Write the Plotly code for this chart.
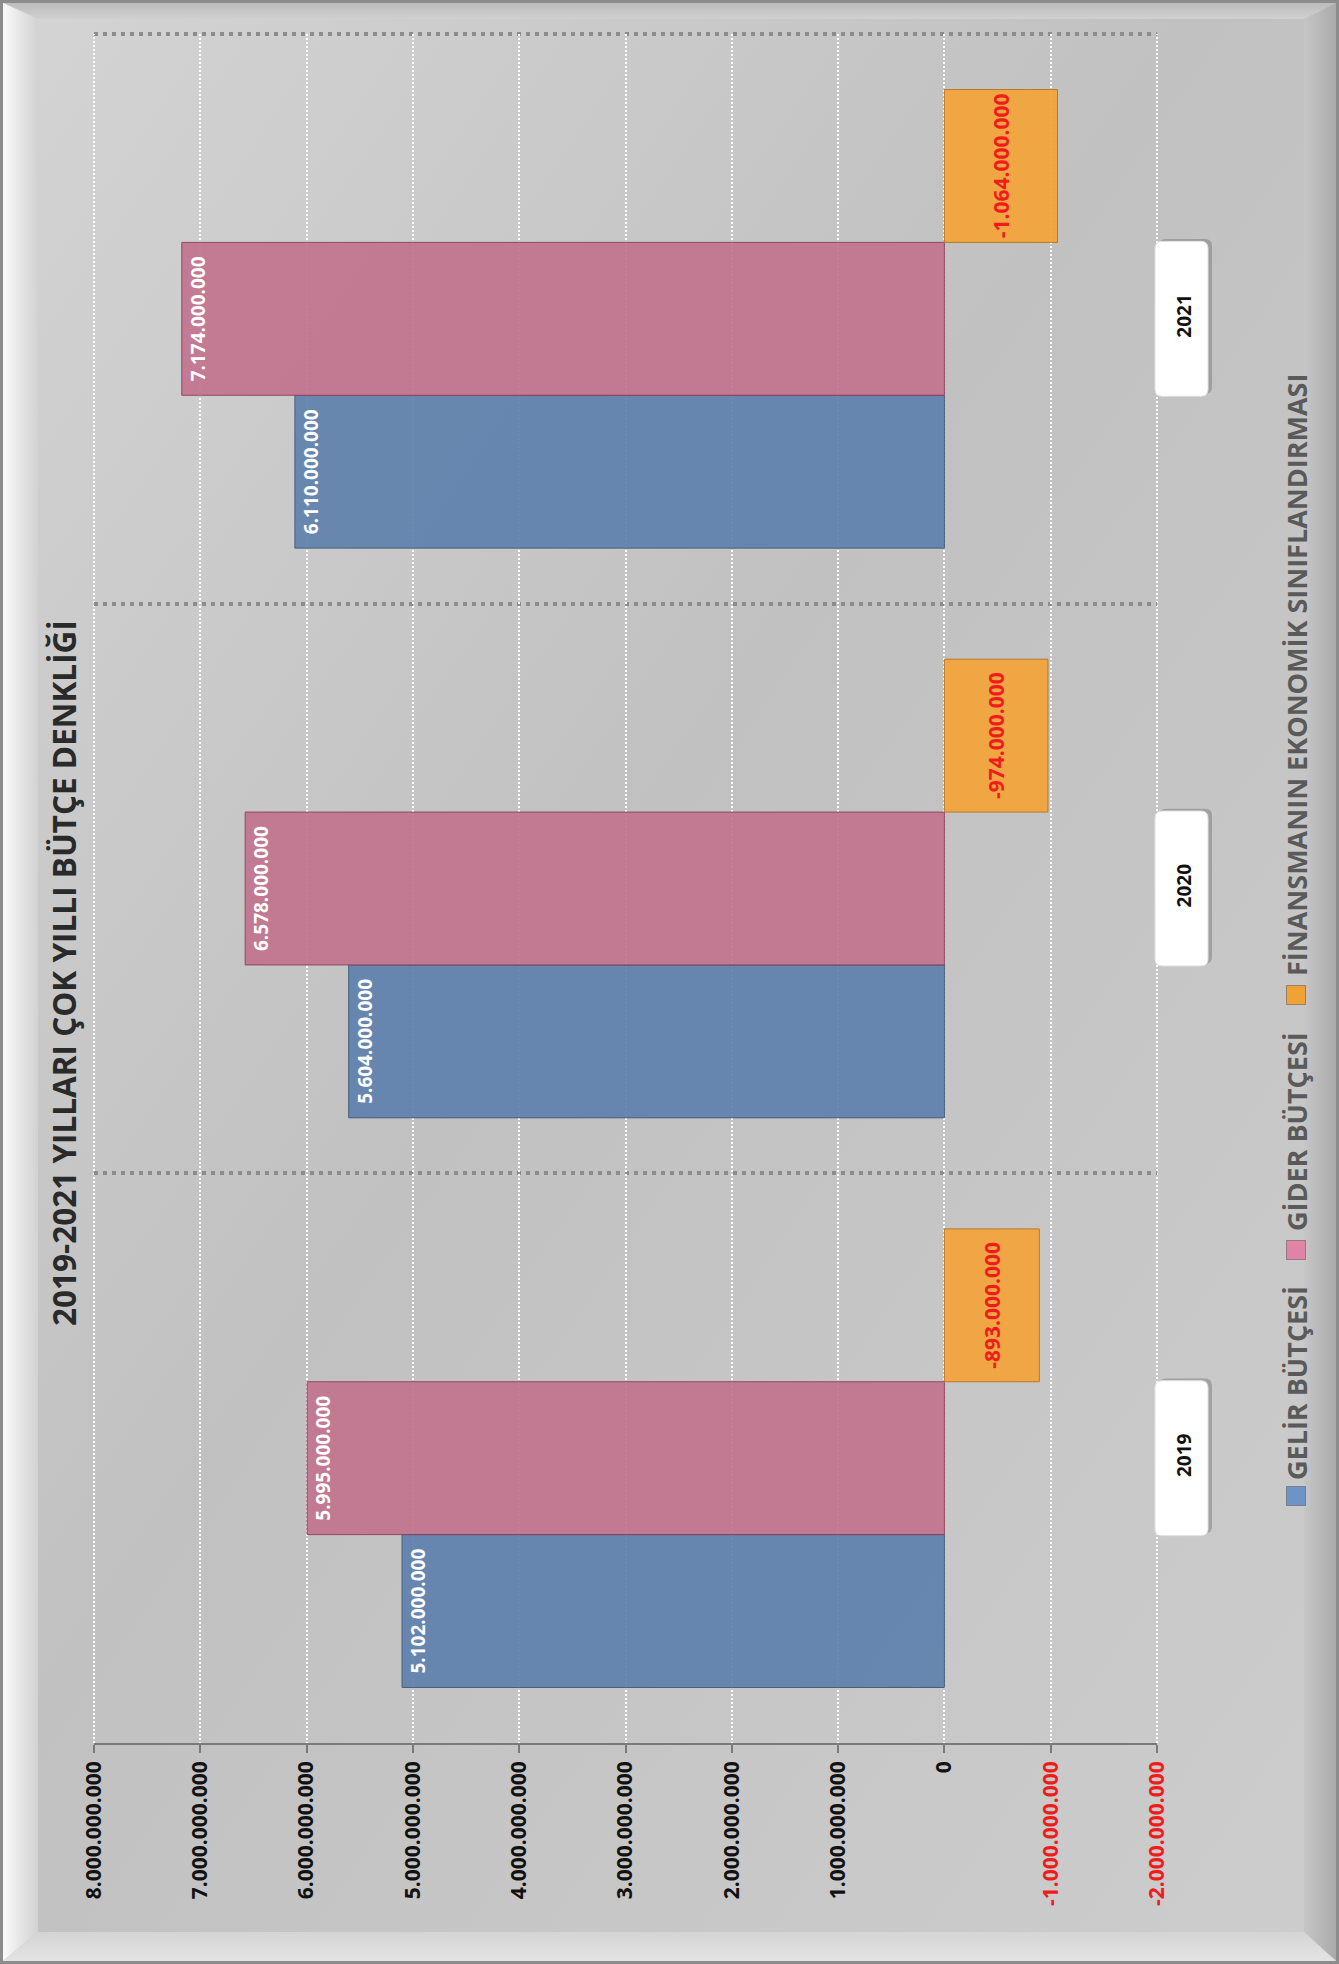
import base64
import plotly.graph_objects as go

# ---------------- data ----------------
years = ["2019", "2020", "2021"]
gelir_butcesi = [5102000000, 5604000000, 6110000000]
gider_butcesi = [5995000000, 6578000000, 7174000000]
finansman = [-893000000, -974000000, -1064000000]
series_names = ["GELİR BÜTÇESİ", "GİDER BÜTÇESİ", "FİNANSMANIN EKONOMİK SINIFLANDIRMASI"]
tick_values = [8e9, 7e9, 6e9, 5e9, 4e9, 3e9, 2e9, 1e9, 0, -1e9, -2e9]
title_text = "2019-2021 YILLARI ÇOK YILLI BÜTÇE DENKLİĞİ"

# ---------------- helpers ----------------
def fmt(v):
    return f"{int(v):,}".replace(",", ".")

RED = "#f01c1c"

def tick_label(v):
    s = fmt(v)
    if v < 0:
        return f"<span style='color:{RED}'>{s}</span>"
    return s

W, H = 1339, 1964
ML, MR, MT, MB = 94, 182, 34, 221
PW, PH = W - ML - MR, H - MT - MB

def px_x(p):
    return (p - ML) / PW

def px_y(p):
    return (H - MB - p) / PH

FONT = "Open Sans"
y_idx = list(range(len(years)))
x_max, x_min = max(tick_values), min(tick_values)
CAT_PX = PH / len(years)


def rounded_box(x0, x1, yc, half_h, r_px):
    """Rounded rectangle path; x in paper units, y in category (data) units."""
    rx = r_px / PW
    ry = r_px / CAT_PX
    y0, y1 = yc - half_h, yc + half_h
    return (f"M {x0 + rx},{y0} L {x1 - rx},{y0} Q {x1},{y0} {x1},{y0 + ry} "
            f"L {x1},{y1 - ry} Q {x1},{y1} {x1 - rx},{y1} L {x0 + rx},{y1} "
            f"Q {x0},{y1} {x0},{y1 - ry} L {x0},{y0 + ry} Q {x0},{y0} {x0 + rx},{y0} Z")

# ---------------- background (frame with bevel) ----------------
svg = f'''<svg xmlns="http://www.w3.org/2000/svg" width="{W}" height="{H}" viewBox="0 0 {W} {H}">
<defs>
<linearGradient id="bg" x1="0" y1="0" x2="1" y2="1">
<stop offset="0" stop-color="#d4d4d4"/><stop offset="0.45" stop-color="#c1c1c1"/><stop offset="1" stop-color="#cdcdcd"/>
</linearGradient>
<linearGradient id="lb" x1="0" y1="0" x2="1" y2="0"><stop offset="0" stop-color="#fafafa"/><stop offset="1" stop-color="#d2d2d2"/></linearGradient>
<linearGradient id="rb" x1="0" y1="0" x2="1" y2="0"><stop offset="0" stop-color="#c6c6c6"/><stop offset="1" stop-color="#aaaaaa"/></linearGradient>
<linearGradient id="tb" x1="0" y1="0" x2="0" y2="1"><stop offset="0" stop-color="#bcbcbc"/><stop offset="1" stop-color="#d0d0d0"/></linearGradient>
<linearGradient id="bb" x1="0" y1="0" x2="0" y2="1"><stop offset="0" stop-color="#d4d4d4"/><stop offset="1" stop-color="#e4e4e4"/></linearGradient>
<linearGradient id="box" x1="0" y1="0" x2="1" y2="0"><stop offset="0" stop-color="#ffffff"/><stop offset="1" stop-color="#f2f2f2"/></linearGradient>
</defs>
<rect width="{W}" height="{H}" fill="url(#bg)"/>
<polygon points="3,3 {W-3},3 {W-35},19 38,19" fill="url(#tb)"/>
<polygon points="3,3 38,19 38,{H-32} 3,{H-3}" fill="url(#lb)"/>
<polygon points="{W-3},3 {W-3},{H-3} {W-35},{H-32} {W-35},19" fill="url(#rb)"/>
<polygon points="3,{H-3} 38,{H-32} {W-35},{H-32} {W-3},{H-3}" fill="url(#bb)"/>
<rect x="1.5" y="1.5" width="{W-3}" height="{H-3}" fill="none" stroke="#8c8c8c" stroke-width="3"/>
</svg>'''
bg_src = "data:image/svg+xml;base64," + base64.b64encode(svg.encode("utf-8")).decode("ascii")

# ---------------- traces ----------------
styles = [
    dict(color="#6283ae", line="#3d5676", anchor="end", tcolor="white", tsize=19),
    dict(color="#c27690", line="#8f3f5c", anchor="end", tcolor="white", tsize=19),
    dict(color="#f4a53d", line="#b8741f", anchor="middle", tcolor=RED, tsize=21),
]
values = [gelir_butcesi, gider_butcesi, finansman]

fig = go.Figure()
for name, vals, st in zip(series_names, values, styles):
    fig.add_trace(go.Bar(
        y=y_idx, x=vals, orientation="h", name=name,
        marker=dict(color=st["color"], line=dict(color=st["line"], width=1), opacity=0.94),
        text=[fmt(v) for v in vals], textposition="inside",
        insidetextanchor=st["anchor"], textangle=-90, constraintext="none",
        textfont=dict(family=FONT, size=st["tsize"], color=st["tcolor"], weight="bold"),
        showlegend=False, hoverinfo="x+name",
    ))

# ---------------- shapes ----------------
shapes = []
# outer grid edges (plotly omits grid lines that sit on the range ends)
shapes.append(dict(type="line", xref="x", yref="paper", x0=x_max, x1=x_min, y0=1, y1=1,
                   line=dict(color="#8c8c8c", width=4, dash="4px,5px"), layer="below"))
for xe in (0, 1):
    shapes.append(dict(type="line", xref="paper", yref="paper", x0=xe, x1=xe, y0=0, y1=1,
                       line=dict(color="#ffffff", width=2, dash="2px,2px"), layer="below"))
# category label boxes
for i in y_idx:
    shapes.append(dict(type="path", xref="paper", yref="y",
                       path=rounded_box(px_x(1159), px_x(1212), i + 0.004, 0.136, 7),
                       fillcolor="rgba(90,90,90,0.35)", line=dict(width=0), layer="below"))
    shapes.append(dict(type="path", xref="paper", yref="y",
                       path=rounded_box(px_x(1155), px_x(1208), i, 0.136, 7),
                       fillcolor="#ffffff", line=dict(color="#e0e0e0", width=1), layer="below"))

legend_marker_y = [1496, 1250, 995]
legend_text_y = [1383, 1132, 675]
legend_colors = ["#6d93c8", "#e083a6", "#f2a134"]
legend_x = 1296
half = 9.5
for cy, c in zip(legend_marker_y, legend_colors):
    shapes.append(dict(type="rect", xref="paper", yref="paper",
                       x0=px_x(legend_x - half), x1=px_x(legend_x + half),
                       y0=px_y(cy + half), y1=px_y(cy - half),
                       fillcolor=c, line=dict(color="rgba(80,80,80,0.5)", width=1)))

annotations = []
for name, cy in zip(series_names, legend_text_y):
    annotations.append(dict(text=name, xref="paper", yref="paper",
                            x=px_x(legend_x), y=px_y(cy), xanchor="center", yanchor="middle",
                            textangle=-90, showarrow=False,
                            font=dict(family=FONT, size=27, color="#5a5a5a", weight="bold")))
annotations.append(dict(text=title_text, xref="paper", yref="paper",
                        x=px_x(63), y=px_y(973), xanchor="center", yanchor="middle",
                        textangle=-90, showarrow=False,
                        font=dict(family=FONT, size=31.5, color="#2a2a2a", weight="bold")))

fig.update_layout(
    width=W, height=H,
    margin=dict(l=ML, r=MR, t=MT, b=MB, pad=0),
    paper_bgcolor="#c6c6c6", plot_bgcolor="rgba(0,0,0,0)",
    barmode="group", bargap=0.195, bargroupgap=0,
    images=[dict(source=bg_src, xref="paper", yref="paper",
                 x=-ML / PW, y=1 + MT / PH, sizex=W / PW, sizey=H / PH,
                 xanchor="left", yanchor="top", sizing="stretch", layer="below")],
    shapes=shapes, annotations=annotations,
    xaxis=dict(range=[x_max, x_min], tickmode="array", tickvals=tick_values,
               ticktext=[tick_label(v) for v in tick_values], tickangle=-90,
               tickfont=dict(family=FONT, size=21, color="#111111", weight="bold"),
               showgrid=True, gridcolor="#ffffff", gridwidth=2, griddash="2px,2px",
               zeroline=False, showline=True, linecolor="#7a7a7a", linewidth=1.5,
               ticks="outside", ticklen=8, tickcolor="#7a7a7a", tickwidth=1.5),
    yaxis=dict(range=[-0.5, len(years) - 0.5], tickmode="array", tickvals=y_idx, ticktext=years,
               side="right", tickangle=-90,
               tickfont=dict(family=FONT, size=19, color="#111111", weight="bold"),
               showgrid=False, zeroline=False, showline=False, ticks="",
               ticklabelstandoff=14,
               minor=dict(tickmode="array", tickvals=[i + 0.5 for i in y_idx[:-1]], showgrid=True,
                          gridcolor="#8c8c8c", gridwidth=4, griddash="4px,5px", ticks="")),
)

fig.write_html("out.html", config={"displayModeBar": False},
               post_script="document.body.style.margin='0px';")
